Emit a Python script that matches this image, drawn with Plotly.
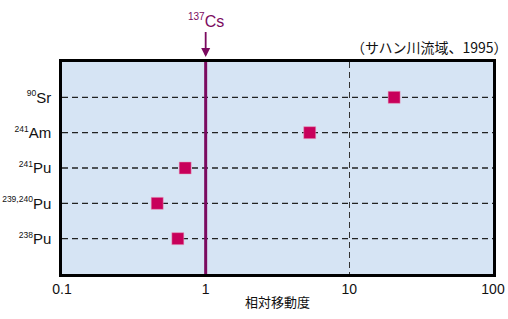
import plotly.graph_objects as go

mass_numbers = ["90", "241", "241", "239,240", "238"]
elements = ["Sr", "Am", "Pu", "Pu", "Pu"]
mobility = [20.5, 5.3, 0.72, 0.46, 0.64]
x_ticks = [0.1, 1, 10, 100]
x_tick_text = ["0.1", "1", "10", "100"]
cs_ref = 1.0

nuclides = [f'<sup><span style="font-size:8.5px">{m}</span></sup>{e}'
            for m, e in zip(mass_numbers, elements)]
ypos = list(range(len(nuclides)))

fig = go.Figure()
fig.add_trace(go.Scatter(
    x=mobility, y=ypos, mode="markers",
    marker=dict(symbol="square", size=12, color="#C8005A",
                line=dict(color="#E8A0C0", width=0.5)),
    showlegend=False, cliponaxis=False,
))

# horizontal dashed lines per nuclide
for y in ypos:
    fig.add_shape(type="line", xref="paper", x0=0, x1=1, y0=y, y1=y, yref="y",
                  line=dict(color="#222222", width=1.3, dash="6px,4px"), layer="below")

# Cs reference line
fig.add_shape(type="line", xref="x", yref="paper", x0=cs_ref, x1=cs_ref, y0=0, y1=1,
              line=dict(color="#7B0A5F", width=3), layer="above")

fig.add_annotation(x=0, xref="x", y=1, yref="paper",
                   text='<sup><span style="font-size:10px">137</span></sup>Cs',
                   showarrow=True, ax=0, ay=-30, arrowhead=2, arrowsize=1, arrowwidth=1.8,
                   arrowcolor="#7B0A5F", standoff=5, yanchor="bottom",
                   font=dict(family="Liberation Sans, Arial", size=16, color="#7B0A5F"))

fig.add_annotation(x=1.04, xref="paper", y=1.07, yref="paper",
                   text="（サハン川流域、1995）", showarrow=False,
                   xanchor="right", yanchor="middle",
                   font=dict(family="Noto Sans CJK JP", size=14, color="#111111"))

fig.add_annotation(x=0.5, xref="paper", y=-0.132, yref="paper",
                   text="相対移動度", showarrow=False, xanchor="center", yanchor="middle",
                   font=dict(family="Noto Sans CJK JP", size=13, color="#111111"))

fig.update_layout(
    width=508, height=319,
    margin=dict(l=62, r=15, t=62, b=45),
    paper_bgcolor="white", plot_bgcolor="#D6E4F4",
    font=dict(family="Liberation Sans, Arial", size=13, color="#111111"),
    xaxis=dict(type="log", range=[-1, 2], tickvals=x_ticks, ticktext=x_tick_text,
               showgrid=True, gridcolor="#333333", gridwidth=1.3, griddash="6px,4px",
               showline=True, linecolor="black", linewidth=2.5, mirror=True,
               ticks="", zeroline=False, tickfont=dict(size=14), automargin=False),
    yaxis=dict(range=[len(nuclides), -1], tickvals=ypos, ticktext=nuclides,
               showgrid=False, showline=True, linecolor="black", linewidth=2.5, mirror=True,
               ticks="", zeroline=False, ticklabelstandoff=5, tickfont=dict(size=15),
               automargin=False),
)

fig.write_html("out.html")
